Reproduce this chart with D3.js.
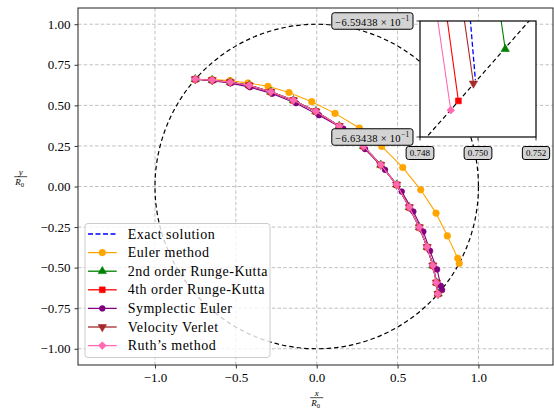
<!DOCTYPE html>
<html>
<head>
<meta charset="utf-8">
<script src="https://cdn.jsdelivr.net/npm/d3@7"></script>
<style>
  body { margin: 0; background: #fff; }
  svg { display: block; }
  text { font-family: "Liberation Serif", "DejaVu Serif", serif; fill: #000; }
</style>
</head>
<body>
<div id="chart"></div>
<script>
// ---- data (x/R0, y/R0) ----
const xTicks = [-1.0, -0.5, 0.0, 0.5, 1.0];
const yTicks = [-1.0, -0.75, -0.5, -0.25, 0.0, 0.25, 0.5, 0.75, 1.0];
const insetXTicks = [0.748, 0.750, 0.752];
const insetYTicks = [-0.663438, -0.659438];
const insetYMantissa = ["6.63438", "6.59438"];

const seriesNames = ["Exact solution", "Euler method", "2nd order Runge-Kutta",
  "4th order Runge-Kutta", "Symplectic Euler", "Velocity Verlet", "Ruth\u2019s method"];

const exactPts = [[-0.751, 0.661], [-0.6463, 0.6556], [-0.5343, 0.6426], [-0.4174, 0.6235],
  [-0.2839, 0.5833], [-0.1441, 0.5315], [-0.0056, 0.4630], [0.1391, 0.3728], [0.2894, 0.2488],
  [0.3958, 0.1340], [0.4941, 0.0117], [0.5727, -0.1278], [0.6345, -0.2512], [0.6827, -0.3728],
  [0.7180, -0.4864], [0.7405, -0.5930], [0.7494, -0.6554], [0.74991, -0.66148]];

const eulerPts = [[-0.751, 0.661], [-0.6475, 0.6586], [-0.5362, 0.6525], [-0.4249, 0.6383],
  [-0.3012, 0.6173], [-0.1713, 0.5796], [-0.0309, 0.5228], [0.1132, 0.4506], [0.2635, 0.3605],
  [0.4020, 0.2469], [0.5318, 0.1173], [0.6432, -0.0204], [0.7378, -0.1642], [0.8077, -0.3043],
  [0.8720, -0.4420], [0.8813, -0.4741]];

const rk2Pts = [[-0.751, 0.661], [-0.6463, 0.6556], [-0.5343, 0.6426], [-0.4174, 0.6235],
  [-0.2839, 0.5833], [-0.1441, 0.5315], [-0.0056, 0.4630], [0.1391, 0.3728], [0.2894, 0.2488],
  [0.3958, 0.1340], [0.4941, 0.0117], [0.5727, -0.1278], [0.6345, -0.2512], [0.6827, -0.3728],
  [0.7180, -0.4864], [0.7410, -0.5915], [0.750939, -0.660406]];

const rk4Pts = [[-0.751, 0.661], [-0.6460, 0.6552], [-0.5340, 0.6420], [-0.4170, 0.6228],
  [-0.2835, 0.5826], [-0.1437, 0.5307], [-0.0052, 0.4622], [0.1395, 0.3718], [0.2898, 0.2478],
  [0.3962, 0.1330], [0.4945, 0.0106], [0.5731, -0.1290], [0.6350, -0.2524], [0.6832, -0.3740],
  [0.7184, -0.4876], [0.7398, -0.5930], [0.749324, -0.662193]];

const symplecticPts = [[-0.751, 0.661], [-0.6456, 0.6525], [-0.5331, 0.6370], [-0.4125, 0.6123],
  [-0.2746, 0.5722], [-0.1280, 0.5136], [0.0142, 0.4395], [0.1645, 0.3562], [0.2987, 0.2309],
  [0.4224, 0.1031], [0.5257, -0.0309], [0.5974, -0.1543], [0.6592, -0.2778], [0.7007, -0.3969],
  [0.7440, -0.5111], [0.7675, -0.6130], [0.7750, -0.6377]];

const verletPts = [[-0.751, 0.661], [-0.6463, 0.6556], [-0.5343, 0.6426], [-0.4174, 0.6235],
  [-0.2839, 0.5833], [-0.1441, 0.5315], [-0.0056, 0.4630], [0.1391, 0.3728], [0.2894, 0.2488],
  [0.3958, 0.1340], [0.4941, 0.0117], [0.5727, -0.1278], [0.6345, -0.2512], [0.6827, -0.3728],
  [0.7180, -0.4864], [0.7399, -0.5925], [0.749843, -0.661592]];

const ruthPts = [[-0.751, 0.661], [-0.6463, 0.6556], [-0.5343, 0.6426], [-0.4174, 0.6235],
  [-0.2839, 0.5833], [-0.1441, 0.5315], [-0.0056, 0.4630], [0.1391, 0.3728], [0.2894, 0.2488],
  [0.3958, 0.1340], [0.4941, 0.0117], [0.5727, -0.1278], [0.6345, -0.2512], [0.6827, -0.3728],
  [0.7180, -0.4864], [0.7390, -0.5930], [0.749061, -0.662515]];

const seriesData = [exactPts, eulerPts, rk2Pts, rk4Pts, symplecticPts, verletPts, ruthPts];

// ---- styles ----
const styles = [
  { color: "#0000ff", dash: "5,2.5", width: 1.3, marker: null },
  { color: "#ffa500", width: 1.1, marker: "circle", size: 34 },
  { color: "#008000", width: 1.1, marker: "triangle", size: 30 },
  { color: "#ff0000", width: 1.1, marker: "square", size: 34 },
  { color: "#800080", width: 1.1, marker: "circle", size: 26 },
  { color: "#a52a2a", width: 1.1, marker: "triangleDown", size: 30 },
  { color: "#ff69b4", width: 1.1, marker: "diamond", size: 30 }
];

const W = 554, H = 410;
const margin = { left: 78, right: 553, top: 8, bottom: 365 };

const svg = d3.select("#chart").append("svg").attr("width", W).attr("height", H);

const x = d3.scaleLinear().domain([-1.476, 1.461]).range([margin.left, margin.right]);
const y = d3.scaleLinear().domain([-1.1, 1.1]).range([margin.bottom, margin.top]);

function markerPath(type, size) {
  if (type === "circle") return d3.symbol().type(d3.symbolCircle).size(size)();
  if (type === "square") return d3.symbol().type(d3.symbolSquare).size(size)();
  if (type === "diamond") return d3.symbol().type(d3.symbolSquare).size(size)();
  return d3.symbol().type(d3.symbolTriangle).size(size)();
}
function markerRot(type) {
  if (type === "diamond") return 45;
  if (type === "triangleDown") return 180;
  return 0;
}

function drawSeries(g, sx, sy, pts, st) {
  const line = d3.line().x(d => sx(d[0])).y(d => sy(d[1]));
  g.append("path").datum(pts)
    .attr("d", line)
    .attr("fill", "none")
    .attr("stroke", st.color)
    .attr("stroke-width", st.width)
    .attr("stroke-dasharray", st.dash || null);
  if (st.marker) {
    g.append("g").selectAll("path").data(pts).enter().append("path")
      .attr("d", markerPath(st.marker, st.size))
      .attr("transform", d => `translate(${sx(d[0])},${sy(d[1])}) rotate(${markerRot(st.marker)})`)
      .attr("fill", st.color)
      .attr("stroke", st.color)
      .attr("stroke-width", 0.6);
  }
}

// grid
const grid = svg.append("g");
grid.selectAll(".gx").data(xTicks).enter().append("line")
  .attr("x1", d => x(d)).attr("x2", d => x(d))
  .attr("y1", margin.top).attr("y2", margin.bottom)
  .attr("stroke", "#b0b0b0").attr("stroke-width", 0.8).attr("stroke-dasharray", "3.5,2.2");
grid.selectAll(".gy").data(yTicks).enter().append("line")
  .attr("y1", d => y(d)).attr("y2", d => y(d))
  .attr("x1", margin.left).attr("x2", margin.right)
  .attr("stroke", "#b0b0b0").attr("stroke-width", 0.8).attr("stroke-dasharray", "3.5,2.2");

// clip for the main axes
svg.append("clipPath").attr("id", "mainClip").append("rect")
  .attr("x", margin.left).attr("y", margin.top)
  .attr("width", margin.right - margin.left).attr("height", margin.bottom - margin.top);

const plot = svg.append("g").attr("clip-path", "url(#mainClip)");

// reference circle of radius R0
plot.append("ellipse")
  .attr("cx", x(0)).attr("cy", y(0))
  .attr("rx", x(1) - x(0)).attr("ry", y(0) - y(1))
  .attr("fill", "none").attr("stroke", "#000").attr("stroke-width", 1.2)
  .attr("stroke-dasharray", "4.5,3");

seriesData.forEach((pts, i) => drawSeries(plot, x, y, pts, styles[i]));

// axes
const xAxis = svg.append("g").attr("transform", `translate(0,${margin.bottom})`)
  .call(d3.axisBottom(x).tickValues(xTicks).tickSize(3.5).tickPadding(4).tickFormat(d3.format(".1f")));
const yAxis = svg.append("g").attr("transform", `translate(${margin.left},0)`)
  .call(d3.axisLeft(y).tickValues(yTicks).tickSize(3.5).tickPadding(4).tickFormat(d3.format(".2f")));
[xAxis, yAxis].forEach(a => {
  a.select(".domain").remove();
  a.selectAll("text").style("font-family", "Liberation Serif").style("font-size", "13px").attr("fill", "#000");
  a.selectAll("line").attr("stroke", "#000").attr("stroke-width", 0.8);
});

// frame
svg.append("rect")
  .attr("x", margin.left).attr("y", margin.top)
  .attr("width", margin.right - margin.left).attr("height", margin.bottom - margin.top)
  .attr("fill", "none").attr("stroke", "#222").attr("stroke-width", 1);

// axis labels as fractions
function fraction(cx, cy, num) {
  const g = svg.append("g");
  g.append("text").attr("x", cx).attr("y", cy - 2).attr("text-anchor", "middle")
    .style("font-size", "9px").style("font-style", "italic").text(num);
  g.append("line").attr("x1", cx - 6.5).attr("x2", cx + 6.5).attr("y1", cy).attr("y2", cy)
    .attr("stroke", "#000").attr("stroke-width", 0.7);
  const t = g.append("text").attr("x", cx - 1).attr("y", cy + 8).attr("text-anchor", "middle")
    .style("font-size", "9px").style("font-style", "italic");
  t.append("tspan").text("R");
  t.append("tspan").attr("dy", 2).style("font-size", "6.5px").style("font-style", "normal").text("0");
}
fraction(20.7, 176.7, "y");
fraction(316.7, 397.7, "x");

// legend
const legend = svg.append("g");
legend.append("rect").attr("x", 85).attr("y", 223.5).attr("width", 185).attr("height", 134)
  .attr("rx", 3).attr("fill", "#fff").attr("fill-opacity", 0.8)
  .attr("stroke", "#cccccc").attr("stroke-width", 1);
seriesNames.forEach((name, i) => {
  const st = styles[i];
  const cy = 234 + i * 18.6;
  const row = legend.append("g");
  row.append("line").attr("x1", 88).attr("x2", 116.7).attr("y1", cy).attr("y2", cy)
    .attr("stroke", st.color).attr("stroke-width", st.width + 0.2)
    .attr("stroke-dasharray", st.dash || null);
  if (st.marker) {
    row.append("path").attr("d", markerPath(st.marker, st.size))
      .attr("transform", `translate(102.3,${cy}) rotate(${markerRot(st.marker)})`)
      .attr("fill", st.color).attr("stroke", st.color).attr("stroke-width", 0.6);
  }
  row.append("text").attr("x", 127.7).attr("y", cy + 4.6)
    .style("font-size", "14px").style("letter-spacing", "0.5px").text(name);
});

// ---- inset ----
const ix = d3.scaleLinear().domain([0.748, 0.752]).range([420, 536]);
const iy = d3.scaleLinear().domain([-0.663438, -0.659438]).range([137, 21]);

const inset = svg.append("g");
inset.append("rect").attr("x", 420).attr("y", 21).attr("width", 116).attr("height", 116).attr("fill", "#fff");
svg.append("clipPath").attr("id", "insetClip").append("rect")
  .attr("x", 420).attr("y", 21).attr("width", 116).attr("height", 116);
const iplot = inset.append("g").attr("clip-path", "url(#insetClip)");
iplot.append("ellipse")
  .attr("cx", ix(0)).attr("cy", iy(0))
  .attr("rx", ix(1) - ix(0)).attr("ry", iy(0) - iy(1))
  .attr("fill", "none").attr("stroke", "#000").attr("stroke-width", 1.2)
  .attr("stroke-dasharray", "4.5,3");
seriesData.forEach((pts, i) => drawSeries(iplot, ix, iy, pts, styles[i]));
inset.append("rect").attr("x", 420).attr("y", 21).attr("width", 116).attr("height", 116)
  .attr("fill", "none").attr("stroke", "#000").attr("stroke-width", 1.2);

// inset ticks
inset.selectAll(".itx").data(insetXTicks).enter().append("line")
  .attr("x1", d => ix(d)).attr("x2", d => ix(d)).attr("y1", 137).attr("y2", 140.5)
  .attr("stroke", "#000").attr("stroke-width", 0.8);
inset.selectAll(".ity").data(insetYTicks).enter().append("line")
  .attr("y1", d => iy(d)).attr("y2", d => iy(d)).attr("x1", 416.5).attr("x2", 420)
  .attr("stroke", "#000").attr("stroke-width", 0.8);

function boxedLabel(g, build, anchorX, anchorY, align) {
  const lg = g.append("g");
  const t = lg.append("text");
  build(t);
  const bb = t.node().getBBox();
  let dx = 0;
  if (align === "middle") dx = anchorX - (bb.x + bb.width / 2);
  else dx = anchorX - (bb.x + bb.width);
  const dy = anchorY - (bb.y + bb.height / 2);
  t.attr("transform", `translate(${dx},${dy})`);
  lg.insert("rect", "text")
    .attr("x", bb.x + dx - 3.5).attr("y", bb.y + dy - 1.5)
    .attr("width", bb.width + 7).attr("height", bb.height + 3)
    .attr("rx", 2.5).attr("fill", "#d3d3d3").attr("stroke", "#000").attr("stroke-width", 1);
}

insetXTicks.forEach(v => {
  boxedLabel(inset, t => t.style("font-size", "9px").text(d3.format(".3f")(v)), ix(v), 153, "middle");
});
insetYTicks.forEach((v, i) => {
  boxedLabel(inset, t => {
    t.style("font-size", "10.5px").style("letter-spacing", "0.3px");
    t.append("tspan").text("\u2212" + insetYMantissa[i] + " \u00d7 10");
    t.append("tspan").attr("dy", -4.5).style("font-size", "7.5px").text("\u22121");
  }, 409.5, iy(v), "end");
});
</script>
</body>
</html>
